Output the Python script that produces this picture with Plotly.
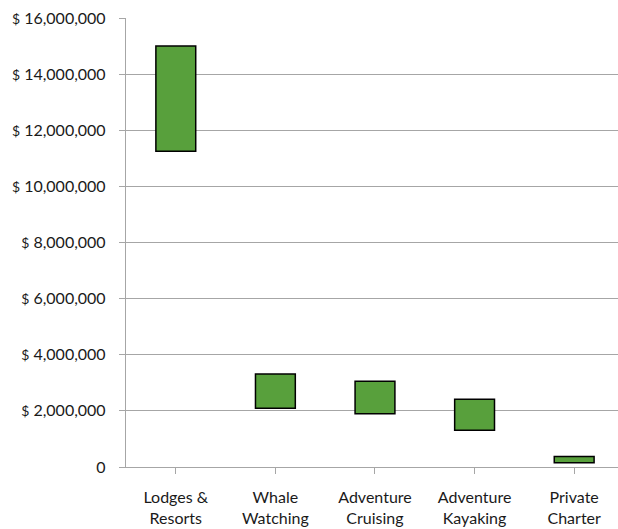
import plotly.graph_objects as go

categories = ["Lodges &<br>Resorts", "Whale<br>Watching", "Adventure<br>Cruising",
              "Adventure<br>Kayaking", "Private<br>Charter"]
low_values = [11250000, 2090000, 1900000, 1310000, 150000]
high_values = [15000000, 3310000, 3060000, 2410000, 370000]
tick_values = [0, 2000000, 4000000, 6000000, 8000000, 10000000, 12000000, 14000000, 16000000]
tick_numbers = ["0", "2,000,000", "4,000,000", "6,000,000", "8,000,000",
                "10,000,000", "12,000,000", "14,000,000", "16,000,000"]

tick_labels = [t if t == "0" else "<span style='font-size:14px'>$</span> " + t for t in tick_numbers]
heights = [h - l for h, l in zip(high_values, low_values)]

fig = go.Figure(go.Bar(
    x=list(range(len(categories))),
    y=heights,
    base=low_values,
    width=0.4,
    marker=dict(color="#58A03C", line=dict(color="#000000", width=1.5)),
    hoverinfo="skip",
))

font = dict(family="Lato, Open Sans, sans-serif", size=16, color="#1a1a1a")

fig.update_layout(
    width=618, height=529,
    margin=dict(l=126, r=0, t=18, b=62),
    paper_bgcolor="white", plot_bgcolor="white",
    showlegend=False,
    font=font,
    xaxis=dict(
        tickvals=list(range(len(categories))),
        ticktext=categories,
        range=[-0.5, 4.44],
        showgrid=False,
        showline=True, linecolor="#A6A6A6", linewidth=1.3,
        ticks="outside", tickson="boundaries", ticklen=6, tickcolor="#A6A6A6",
        ticklabelstandoff=10,
        tickfont=font,
        zeroline=False,
        fixedrange=True,
    ),
    yaxis=dict(
        range=[0, 16000000],
        tickvals=tick_values,
        ticktext=tick_labels,
        showgrid=True, gridcolor="#A6A6A6", gridwidth=1.3,
        showline=True, linecolor="#A6A6A6", linewidth=1.3,
        ticks="outside", ticklen=6, tickcolor="#A6A6A6",
        ticklabelstandoff=10,
        tickfont=font,
        zeroline=False,
        fixedrange=True,
    ),
)

fig.write_html("out.html", config={"displayModeBar": False},
               post_script="document.body.style.margin='0';")
